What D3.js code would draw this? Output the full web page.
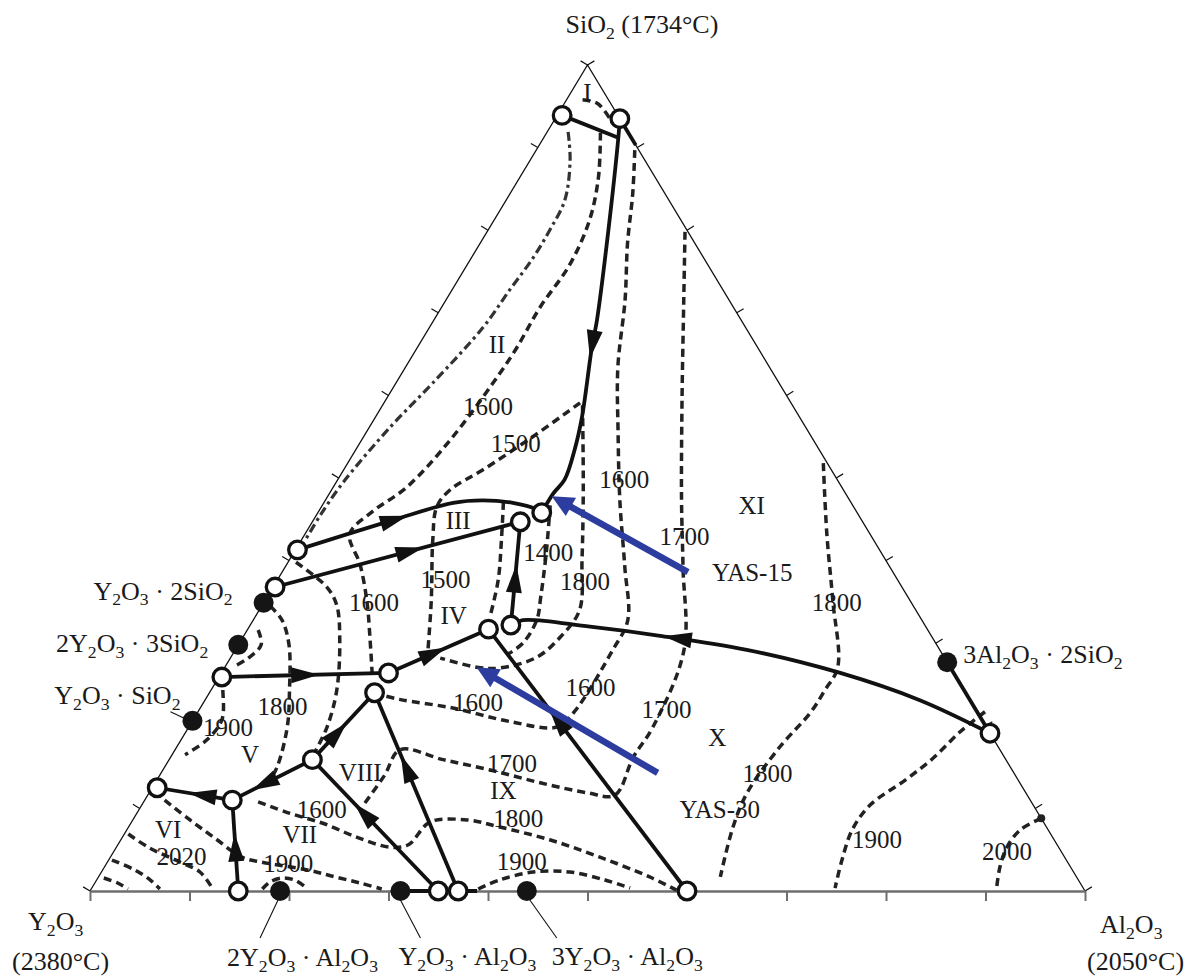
<!DOCTYPE html>
<html>
<head>
<meta charset="utf-8">
<script src="https://cdn.jsdelivr.net/npm/d3@7"></script>
<style>
  html, body { margin: 0; padding: 0; background: #fff; }
  svg { display: block; font-family: "Liberation Serif", "Times New Roman", serif; }
</style>
</head>
<body>
<svg id="chart" width="1189" height="976"></svg>
<script>
// Y2O3–Al2O3–SiO2 liquidus projection.
// Every composition is a pair [SiO2 %, Al2O3 %]; Y2O3 is the remainder.

const tickFractions = d3.range(0, 11).map(k => k / 10);

const vertexNames = ["SiO_2 (1734°C)", "Y_2O_3", "(2380°C)", "Al_2O_3", "(2050°C)"];

// Invariant points (open circles)
const invariantPoints = [
  ["p1", 93.9, 0.5], ["p2", 93.5, 6.5], ["p3", 41.3, 0.2], ["p4", 36.8, 0.2],
  ["p5", 44.7, 20.9], ["p6", 45.8, 22.5], ["p7", 31.7, 24.2], ["p8", 32.2, 26.2],
  ["p9", 26.4, 16.8], ["p10", 24.0, 16.6], ["p11", 25.9, 0.3], ["p12", 15.9, 14.4],
  ["p13", 11.0, 8.8], ["p14", 12.5, 0.5], ["p15", 0, 14.9], ["p16", 0, 35.0],
  ["p17", 0, 37.0], ["p18", 0, 60.0], ["p19", 19.1, 80.9]
];

// Binary compounds (filled circles)
const compoundNames = ["Y_2O_3 · 2SiO_2", "2Y_2O_3 · 3SiO_2", "Y_2O_3 · SiO_2",
  "2Y_2O_3 · Al_2O_3", "Y_2O_3 · Al_2O_3", "3Y_2O_3 · Al_2O_3", "3Al_2O_3 · 2SiO_2"];
const compoundSiO2 = [34.9, 29.8, 20.6, 0, 0, 0, 27.7];
const compoundAl2O3 = [0, 0, 0, 19.1, 31.2, 43.9, 72.3];

// Boundary curves, listed in the direction of falling temperature
const boundaryPaths = [
  ["p2", [91.2, 7.5], [80.0, 12.1], [69.1, 16.4], [65.9, 17.5], [57.4, 20.75], [53.4, 22.0], [49.8, 22.8], [48.1, 22.5], "p6"],
  ["p1", [91.2, 7.5]],
  ["p2", [90.3, 9.7]],
  ["p3", [44.9, 8.0], [47.0, 13.0], [47.3, 15.8], [47.0, 19.0], [46.2, 21.8], "p6"],
  ["p4", "p5"],
  ["p8", "p5"],
  ["p19", [23.1, 71.85], [26.4, 62.2], [29.2, 51.4], [30.9, 41.85], [32.0, 34.25], [32.8, 27.1], "p8"],
  [[27.7, 72.3], "p19"],
  ["p18", "p7"],
  ["p9", "p7"],
  ["p11", "p9"],
  ["p12", "p10"],
  ["p12", "p13"],
  ["p13", "p14"],
  ["p15", "p13"],
  ["p16", "p12"],
  ["p17", "p10"],
  [[0, 31.2], [0, 38.9]]
];
// where along each boundary its arrow sits (null: no arrow)
const boundaryArrowAt = [0.56, null, null, 0.40, 0.55, 0.45, 0.66, null, 0.65, 0.45, 0.5, 0.4, 0.6, 0.4, 0.48, 0.59, 0.62, null];

// Liquid miscibility gap
const miscibilityGap = [[91.9, 2.1], [88.5, 4.0], [83.65, 5.9], [80.0, 6.2], [76.6, 6.2], [72.8, 5.8],
  [68.3, 5.4], [61.5, 3.7], [56.2, 2.1], [49.4, 0.7], [45.5, 0.4], [42.5, 0.4]];

// Isotherms
const isotherms = [
  [[91.8, 5.4], [86.4, 7.9], [81.2, 9.6], [75.8, 10.3], [70.7, 9.9], [65.5, 10.0], [61.5, 9.75], [54.6, 8.9],
   [48.9, 7.4], [45.9, 5.4], [43.2, 4.5], [39.5, 7.4], [34.9, 10.4], [30.4, 12.95], [26.5, 15.1]],
  [[59.1, 19.7], [55.0, 17.0], [51.0, 14.0], [48.55, 11.9], [46.5, 11.6], [42.5, 13.2], [35.2, 16.7], [28.9, 19.5]],
  [[89.7, 9.9], [84.5, 12.3], [78.45, 14.8], [71.55, 18.0], [63.4, 21.35], [55.45, 25.35], [47.3, 29.6], [39.2, 34.15],
   [32.8, 37.65], [29.2, 37.95], [21.55, 37.8], [19.85, 37.0], [20.5, 32.0], [22.15, 25.4], [23.2, 19.5], [23.85, 17.0]],
  [[79.8, 19.9], [71.55, 23.9], [59.4, 29.8], [47.3, 35.8], [39.2, 40.0], [29.2, 45.1], [19.85, 46.65], [16.2, 46.5],
   [11.6, 46.95], [11.9, 44.0], [13.1, 38.7], [14.65, 32.9], [15.9, 27.55], [17.1, 22.6], [14.0, 22.6], [10.65, 22.3]],
  [[51.8, 47.8], [43.3, 52.4], [35.2, 57.05], [27.1, 61.6], [24.3, 61.7], [21.55, 61.6], [17.4, 60.6], [11.9, 60.1],
   [7.75, 60.75], [1.7, 62.5]],
  [[21.7, 79.1], [19.25, 77.8], [16.1, 76.7], [13.4, 75.2], [10.4, 73.2], [7.4, 72.9], [3.75, 73.7], [0.36, 74.7]],
  [[8.8, 91.2], [7.4, 89.8], [5.3, 89.5], [2.9, 90.0], [0.2, 91.0]],
  [[10.8, 11.5], [9.4, 15.4], [8.2, 19.3], [6.5, 23.6], [5.3, 27.5], [5.6, 29.2], [8.35, 30.0], [8.6, 33.6],
   [7.75, 37.3], [6.2, 43.1], [4.1, 49.2], [1.7, 55.4], [0.1, 58.9]],
  [[0.24, 38.9], [1.33, 40.5], [2.3, 43.4], [2.3, 47.1], [1.33, 51.1], [0.36, 54.1]],
  [[11.0, 2.0], [8.6, 5.75], [6.4, 9.35], [4.1, 13.2], [3.5, 15.5], [2.5, 20.8], [1.7, 23.8], [0.97, 26.65], [0.24, 29.2]],
  [[0.24, 17.2], [1.1, 17.55], [1.57, 18.5], [1.33, 19.9], [0.48, 21.4]],
  [[6.9, 0.4], [5.2, 3.4], [3.5, 7.3], [2.3, 9.9], [0.36, 12.1]],
  [[3.75, 0.33], [2.54, 3.25], [1.33, 5.4], [0.24, 6.9]],
  [[1.57, 0.6], [0.97, 2.3], [0.24, 3.7]],
  [[25.9, 0.3], [24.3, 1.2], [20.7, 2.9], [18.3, 2.6], [16.5, 1.3]],
  [[31.6, 1.1], [29.8, 2.3], [28.2, 1.8], [27.1, 0.8]],
  [[34.5, 0.85], [32.8, 2.9], [29.8, 5.1], [24.3, 7.9], [19.85, 9.9], [15.0, 11.3], [12.6, 11.4]],
  [[39.8, 0.8], [36.8, 5.4], [34.6, 7.5], [30.4, 9.9], [24.3, 12.65], [19.85, 13.9], [16.6, 14.2]],
  [[47.1, 18.0], [42.5, 20.1], [37.65, 22.2], [33.2, 23.6]],
  [[46.7, 22.9], [40.9, 25.4], [35.6, 27.5], [32.8, 28.5], [30.0, 28.5], [28.6, 27.6]],
  [[58.8, 20.1], [48.55, 25.3], [40.1, 29.4], [34.0, 32.2], [30.75, 31.9], [28.3, 30.75], [27.0, 27.7], [27.1, 25.3], [28.2, 21.1]],
  [[95.8, 1.6], [95.3, 3.4], [93.1, 5.9]]
];

// Temperature labels (°C) and their positions
const tempLabelText = ["1600", "1500", "1600", "1700", "1400", "1800", "1500", "1600", "1800", "1600", "1600", "1800",
  "1700", "1900", "1700", "1800", "1600", "1800", "1900", "2000", "2020", "1900", "1900"];
const tempLabelAt = [[58.6, 10.7], [54.2, 15.7], [49.8, 28.8], [42.9, 38.3], [40.9, 25.6], [37.5, 31.0], [37.65, 16.9],
  [34.9, 11.1], [34.9, 57.6], [22.8, 27.6], [24.6, 38.0], [22.3, 8.2], [21.9, 47.0], [19.73, 4.0], [15.4, 34.7],
  [14.2, 61.0], [9.8, 18.4], [8.7, 38.7], [6.2, 76.0], [4.7, 89.8], [4.2, 7.1], [3.27, 18.3], [3.6, 41.6]];

// Primary crystallisation fields
const fieldNames = ["I", "II", "III", "IV", "V", "VI", "VII", "VIII", "IX", "X", "XI"];
const fieldAt = [[96.6, 1.7], [66.1, 7.85], [44.8, 14.6], [33.3, 19.9], [16.46, 7.85], [7.4, 4.15], [6.78, 17.7],
  [14.3, 20.0], [12.1, 35.5], [18.5, 53.8], [46.6, 43.2]];

// Glass compositions and their crystallisation paths
const sampleNames = ["YAS-15", "YAS-30"];
const sampleStart = [[38.6, 40.8], [14.3, 49.9]];
const sampleEnd = [[47.8, 22.5], [27.1, 25.3]];
const sampleLabelAt = [[38.5, 47.3], [9.8, 58.4]];

// ---------------------------------------------------------------
const svg = d3.select("#chart");
const xScale = d3.scaleLinear().domain([0, 1]).range([90, 1085]);
const yScale = d3.scaleLinear().domain([0, 1]).range([891, 65]);
const px = ([s, a]) => [xScale(a / 100 + s / 200), yScale(s / 100)];

const pointById = new Map(invariantPoints.map(([id, s, a]) => [id, [s, a]]));
const resolve = p => (typeof p === "string" ? pointById.get(p) : p);

const smooth = d3.line().curve(d3.curveCatmullRom.alpha(0.5));
const INK = "#111";
const TXT = "#1a1a1a";
const LABEL_FS = 25;
const NAME_FS = 26;

function richText(sel, str, fs) {
  const shift = fs * 0.22;
  let lowered = false;
  str.split(/(_\d)/).filter(Boolean).forEach(part => {
    const isSub = part[0] === "_";
    const t = sel.append("tspan").text(isSub ? part.slice(1) : part);
    if (isSub) {
      t.attr("font-size", fs * 0.68);
      if (!lowered) { t.attr("dy", shift); lowered = true; }
    } else if (lowered) {
      t.attr("dy", -shift); lowered = false;
    }
  });
}

// --- frame -----------------------------------------------------
const vTop = px([100, 0]), vLeft = px([0, 0]), vRight = px([0, 100]);
const frame = svg.append("g");
frame.append("path")
  .attr("d", `M${vLeft}L${vTop}L${vRight}`)
  .attr("fill", "none").attr("stroke", "#111").attr("stroke-width", 1.3);

// base axis (Y2O3 – Al2O3)
svg.append("g")
  .attr("transform", `translate(0,${yScale(0)})`)
  .call(d3.axisBottom(xScale).tickValues(tickFractions).tickSize(10).tickSizeOuter(0).tickFormat(""))
  .call(g => g.select(".domain").attr("stroke", "#6e6e6e").attr("stroke-width", 2.5))
  .call(g => g.selectAll(".tick line").attr("stroke", "#6e6e6e").attr("stroke-width", 2));

function edgeTicks(pointAt, from, to) {
  const dx = to[0] - from[0], dy = to[1] - from[1];
  const len = Math.hypot(dx, dy);
  const nx = dy / len, ny = -dx / len;
  tickFractions.forEach(f => {
    const [x, y] = px(pointAt(f));
    frame.append("line")
      .attr("x1", x).attr("y1", y).attr("x2", x + nx * 8).attr("y2", y + ny * 8)
      .attr("stroke", "#111").attr("stroke-width", 1.2);
  });
}
edgeTicks(f => [f * 100, 0], vLeft, vTop);
edgeTicks(f => [f * 100, 100 - f * 100], vTop, vRight);

// --- isotherms --------------------------------------------------
const dashG = svg.append("g").attr("fill", "none");
dashG.append("path")
  .attr("d", smooth(miscibilityGap.map(px)))
  .attr("stroke", "#333").attr("stroke-width", 3.2)
  .attr("stroke-dasharray", "9 4 3 4");
dashG.selectAll("path.iso").data(isotherms).join("path")
  .attr("class", "iso")
  .attr("d", d => smooth(d.map(px)))
  .attr("stroke", "#222").attr("stroke-width", 3.5)
  .attr("stroke-dasharray", "8 5");
// end of the 2000 °C isotherm at the Al2O3–SiO2 side
{
  const [x, y] = px(isotherms[6][0]);
  dashG.append("circle").attr("cx", x).attr("cy", y).attr("r", 4).attr("fill", "#222");
}

// --- boundary curves with arrows ------------------------------
const lineG = svg.append("g");
boundaryPaths.forEach((path, i) => {
  const pts = path.map(resolve).map(px);
  const el = lineG.append("path")
    .attr("d", smooth(pts))
    .attr("fill", "none").attr("stroke", INK).attr("stroke-width", 3.8);
  const t = boundaryArrowAt[i];
  if (t == null) return;
  const node = el.node();
  const L = node.getTotalLength();
  const c = node.getPointAtLength(t * L);
  const c2 = node.getPointAtLength(Math.min(L, t * L + 1));
  const c0 = node.getPointAtLength(Math.max(0, t * L - 1));
  let dx = c2.x - c0.x, dy = c2.y - c0.y;
  const m = Math.hypot(dx, dy); dx /= m; dy /= m;
  const h = 14, w = 8;
  const tip = [c.x + dx * h, c.y + dy * h];
  const b1 = [c.x - dx * h - dy * w, c.y - dy * h + dx * w];
  const b2 = [c.x - dx * h + dy * w, c.y - dy * h - dx * w];
  lineG.append("path").attr("d", `M${tip}L${b1}L${b2}Z`).attr("fill", INK);
});

// --- points ------------------------------------------------------
const ptG = svg.append("g");
ptG.selectAll("circle.cmp").data(compoundNames).join("circle")
  .attr("class", "cmp")
  .attr("cx", (d, i) => px([compoundSiO2[i], compoundAl2O3[i]])[0])
  .attr("cy", (d, i) => px([compoundSiO2[i], compoundAl2O3[i]])[1])
  .attr("r", 10).attr("fill", "#151515");
ptG.selectAll("circle.inv").data(invariantPoints).join("circle")
  .attr("class", "inv")
  .attr("cx", d => px([d[1], d[2]])[0])
  .attr("cy", d => px([d[1], d[2]])[1])
  .attr("r", 8.8).attr("fill", "#fff").attr("stroke", INK).attr("stroke-width", 3.3);

// --- sample paths (blue) -----------------------------------------
sampleNames.forEach((name, i) => {
  const [x0, y0] = px(sampleStart[i]);
  const [x1, y1] = px(sampleEnd[i]);
  let dx = x1 - x0, dy = y1 - y0;
  const m = Math.hypot(dx, dy); dx /= m; dy /= m;
  const h = 22, w = 10.5;
  svg.append("line")
    .attr("x1", x0).attr("y1", y0).attr("x2", x1 - dx * (h - 2)).attr("y2", y1 - dy * (h - 2))
    .attr("stroke", "#2c3c9f").attr("stroke-width", 6.5);
  const bx = x1 - dx * h, by = y1 - dy * h;
  svg.append("path")
    .attr("d", `M${x1},${y1}L${bx - dy * w},${by + dx * w}L${bx + dy * w},${by - dx * w}Z`)
    .attr("fill", "#2c3c9f");
});

// --- text --------------------------------------------------------
const textG = svg.append("g").attr("fill", TXT);
function centred(str, at, fs) {
  const [x, y] = px(at);
  const t = textG.append("text").attr("x", x).attr("y", y + fs * 0.33)
    .attr("text-anchor", "middle").attr("font-size", fs);
  richText(t, str, fs);
}
tempLabelText.forEach((s, i) => centred(s, tempLabelAt[i], LABEL_FS));
fieldNames.forEach((s, i) => centred(s, fieldAt[i], LABEL_FS));
sampleNames.forEach((s, i) => centred(s, sampleLabelAt[i], LABEL_FS));

// compound labels: offset from the compound point, anchor
const compoundLabelPlacement = [[-31, -3, "end"], [-30, 7, "end"], [-12, -17, "end"],
  [-53, 75, "start"], [-2, 74, "start"], [25, 74, "start"], [16, 1, "start"]];
const compoundLeader = [null, null, [-22, -9, -3, 0], [-2, 9, -20, 47], [0, 9, 20, 47], [3, 9, 30, 47], null];
compoundNames.forEach((name, i) => {
  const [x, y] = px([compoundSiO2[i], compoundAl2O3[i]]);
  const [ox, oy, anchor] = compoundLabelPlacement[i];
  const t = textG.append("text").attr("x", x + ox).attr("y", y + oy)
    .attr("text-anchor", anchor).attr("font-size", NAME_FS);
  richText(t, name, NAME_FS);
  const ld = compoundLeader[i];
  if (ld) {
    svg.append("line")
      .attr("x1", x + ld[0]).attr("y1", y + ld[1]).attr("x2", x + ld[2]).attr("y2", y + ld[3])
      .attr("stroke", "#111").attr("stroke-width", 1.1);
  }
});

// vertex labels
const vertexPlacement = [[vTop, -22, -32], [vLeft, -62, 39], [vLeft, -78, 79], [vRight, 15, 42], [vRight, 2, 79]];
vertexNames.forEach((name, i) => {
  const [v, ox, oy] = vertexPlacement[i];
  const t = textG.append("text").attr("x", v[0] + ox).attr("y", v[1] + oy)
    .attr("text-anchor", "start").attr("font-size", NAME_FS);
  richText(t, name, NAME_FS);
});
</script>
</body>
</html>
